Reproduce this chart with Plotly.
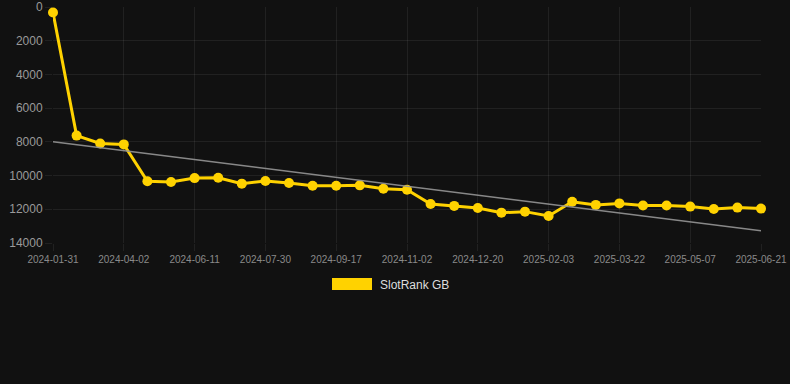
import plotly.graph_objects as go

dates = ["2024-01-31", "2024-02-21", "2024-03-12", "2024-04-02", "2024-04-25", "2024-05-18",
         "2024-06-11", "2024-06-27", "2024-07-14", "2024-07-30", "2024-08-15", "2024-09-01",
         "2024-09-17", "2024-10-02", "2024-10-18", "2024-11-02", "2024-11-18", "2024-12-04",
         "2024-12-20", "2025-01-04", "2025-01-19", "2025-02-03", "2025-02-19", "2025-03-07",
         "2025-03-22", "2025-04-06", "2025-04-22", "2025-05-07", "2025-05-22", "2025-06-06",
         "2025-06-21"]
rank_gb = [330, 7630, 8100, 8150, 10340, 10380, 10150, 10130, 10480, 10320, 10440, 10600,
           10600, 10580, 10780, 10840, 11690, 11800, 11920, 12200, 12140, 12400, 11550, 11740,
           11650, 11780, 11780, 11840, 11980, 11900, 11960]
trend_x = [dates[0], dates[-1]]
trend_y = [8000, 13270]
y_ticks = [0, 2000, 4000, 6000, 8000, 10000, 12000, 14000]
x_tick_labels = dates[::3]

GOLD = "#FFD200"
GRID = "rgba(255,255,255,0.07)"
FONT = "Liberation Sans, Arial, sans-serif"

fig = go.Figure()
fig.add_trace(go.Scatter(
    x=dates, y=rank_gb, mode="lines+markers", name="SlotRank GB",
    line=dict(color=GOLD, width=3),
    marker=dict(color=GOLD, size=10, line=dict(width=0)),
    cliponaxis=False, showlegend=False,
))
fig.add_trace(go.Scatter(
    x=trend_x, y=trend_y, mode="lines",
    line=dict(color="rgba(150,150,150,0.9)", width=1.5),
    showlegend=False, hoverinfo="skip",
))

fig.update_layout(
    width=790, height=384,
    margin=dict(l=53, r=29, t=7, b=141),
    paper_bgcolor="#111111", plot_bgcolor="#111111",
    font=dict(family=FONT, color="#999999"),
    showlegend=False,
    xaxis=dict(
        type="category", categoryorder="array", categoryarray=dates,
        range=[0, len(dates) - 1], automargin=False,
        tickmode="array", tickvals=x_tick_labels, ticktext=x_tick_labels,
        tickfont=dict(size=10, color="#8a8a8a"),
        showgrid=True, gridcolor=GRID, gridwidth=1,
        ticks="outside", ticklen=7, tickcolor=GRID,
        zeroline=False, showline=False,
    ),
    yaxis=dict(
        range=[14000, 0], automargin=False,
        tickmode="array", tickvals=y_ticks, ticktext=[str(v) for v in y_ticks],
        tickfont=dict(size=12, color="#9a9a9a"),
        showgrid=True, gridcolor=GRID, gridwidth=1,
        ticks="outside", ticklen=7, tickcolor=GRID,
        zeroline=False, showline=False,
    ),
    shapes=[dict(type="rect", xref="paper", yref="paper",
                 x0=(332 - 53) / 708, x1=(372 - 53) / 708,
                 y0=(243 - 290) / 236, y1=(243 - 278) / 236,
                 fillcolor=GOLD, line=dict(width=0))],
    annotations=[dict(text="SlotRank GB", xref="paper", yref="paper",
                      x=(378 - 53) / 708, y=(243 - 284.5) / 236,
                      xanchor="left", yanchor="middle", showarrow=False,
                      font=dict(size=12, color="#dddddd", family=FONT))],
)

fig.write_html("out.html", config={"displayModeBar": False},
               post_script="document.body.style.margin='0';document.body.style.background='#111111';")
